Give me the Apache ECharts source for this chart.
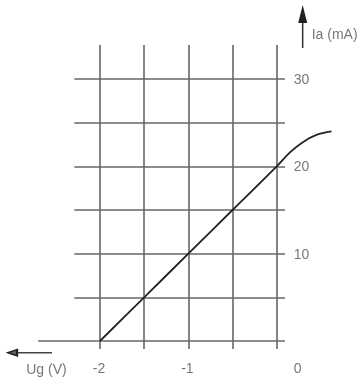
<!DOCTYPE html>
<html>
<head>
<meta charset="utf-8">
<script src="https://cdn.jsdelivr.net/npm/echarts@6/dist/echarts.min.js"></script>
<style>html,body{margin:0;padding:0;background:#fff}#c{width:364px;height:380px}</style>
</head>
<body>
<div id="c"></div>
<script>
// ---- data ----
var xGridValues = [-2, -1.5, -1, -0.5, 0];
var yGridValues = [0, 5, 10, 15, 20, 25, 30];
var xTickValues = [-2, -1, 0];
var xTickLabels = ['-2', '-1', '0'];
var yTickValues = [10, 20, 30];
var yTickLabels = ['10', '20', '30'];
var curveUg = [-2, -1.5, -1, -0.5, 0, 0.15, 0.3, 0.45, 0.62];
var curveIa = [0, 5, 10, 15, 20, 21.6, 22.8, 23.6, 24.0];
var xAxisName = 'Ug (V)';
var yAxisName = 'Ia (mA)';

// ---- chart ----
var gridColor = '#666';
var textColor = '#555';
var font = 'Liberation Sans, Arial, sans-serif';

var pxPerV = 88.35, pxPerMA = 8.733;
var xMin = -3.1, xMax = 0.95, yMin = -4, yMax = 39;

var gridLines = [];
xGridValues.forEach(function (x) {
  gridLines.push({ coords: [[x, -0.92], [x, 33.9]] });
});
yGridValues.forEach(function (y) {
  gridLines.push({ coords: [[y === 0 ? -2.70 : -2.29, y], [0.094, y]] });
});

var curveData = curveUg.map(function (x, i) { return [x, curveIa[i]]; });

var xTickData = xTickValues.map(function (x, i) {
  return { value: [x, 0], name: xTickLabels[i],
    label: { offset: [x === 0 ? 21 : -1, 0] } };
});
var yTickData = yTickValues.map(function (y, i) {
  return { value: [0, y], name: yTickLabels[i] };
});

var chart = echarts.init(document.getElementById('c'));
chart.setOption({
  animation: false,
  backgroundColor: '#fff',
  grid: {
    left: 100 + (xMin + 2) * pxPerV,
    width: (xMax - xMin) * pxPerV,
    top: 79 - (yMax - 30) * pxPerMA,
    height: (yMax - yMin) * pxPerMA
  },
  xAxis: { type: 'value', min: xMin, max: xMax, show: false },
  yAxis: { type: 'value', min: yMin, max: yMax, show: false },
  series: [
    {
      type: 'lines', coordinateSystem: 'cartesian2d', clip: false,
      silent: true,
      lineStyle: { color: gridColor, width: 1.6, opacity: 1 },
      data: gridLines
    },
    {
      type: 'line', clip: false, smooth: 0.35, symbol: 'none', silent: true,
      lineStyle: { color: '#222', width: 1.8 },
      data: curveData
    },
    {
      // Ia axis arrow
      type: 'line', clip: false, silent: true,
      lineStyle: { color: '#333', width: 1.5 },
      itemStyle: { color: '#222' },
      data: [
        { value: [0.294, 33.55], symbol: 'none' },
        { value: [0.294, 37.44], symbol: 'triangle', symbolSize: [9, 18] }
      ]
    },
    {
      // Ug axis arrow
      type: 'line', clip: false, silent: true,
      lineStyle: { color: '#444', width: 1.5 },
      itemStyle: { color: '#666', borderColor: '#222', borderWidth: 1.8 },
      data: [
        { value: [-2.543, -1.34], symbol: 'none' },
        { value: [-2.99, -1.34], symbol: 'triangle', symbolSize: [6, 9], symbolRotate: 90 }
      ]
    },
    {
      type: 'scatter', clip: false, symbolSize: 0, silent: true,
      label: {
        show: true, position: 'bottom', distance: 21,
        formatter: '{b}', color: textColor, fontSize: 14, fontFamily: font
      },
      data: xTickData
    },
    {
      type: 'scatter', clip: false, symbolSize: 0, silent: true,
      label: {
        show: true, position: 'right', distance: 17,
        formatter: '{b}', color: textColor, fontSize: 14, fontFamily: font,
        offset: [0, 1]
      },
      data: yTickData
    },
    {
      type: 'scatter', clip: false, symbolSize: 0, silent: true,
      label: {
        show: true, formatter: '{b}', color: textColor, fontSize: 14, fontFamily: font
      },
      data: [
        { value: [0.294, 35.04], name: yAxisName, label: { position: 'right', distance: 9 } },
        { value: [-2.606, -3.32], name: xAxisName, label: { position: 'inside' } }
      ]
    }
  ]
});
</script>
</body>
</html>
